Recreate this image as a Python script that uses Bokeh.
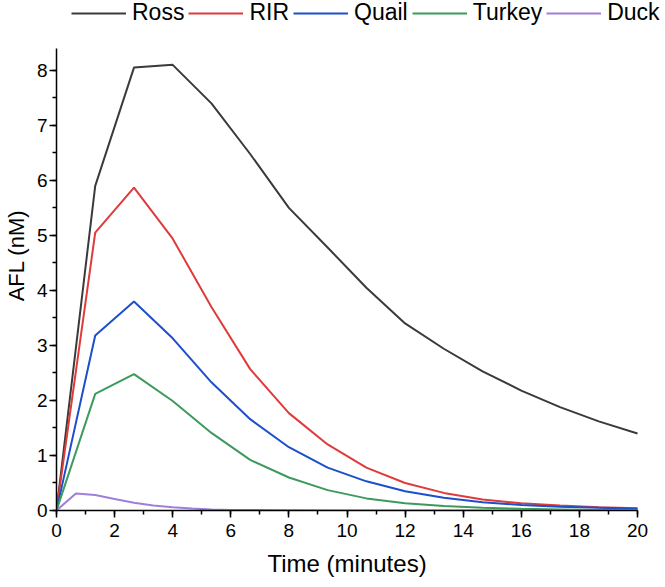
from bokeh.plotting import figure
from bokeh.models import Legend, LegendItem, SingleIntervalTicker, Range1d, Title
from bokeh.embed import file_html
from bokeh.resources import INLINE

# ---- data ----
times = [0, 1.333, 2.667, 4, 5.333, 6.667, 8, 9.333, 10.667, 12,
         13.333, 14.667, 16, 17.333, 18.667, 20]
ross = [0, 5.9, 8.05, 8.1, 7.4, 6.48, 5.5, 4.78, 4.05, 3.4,
        2.94, 2.53, 2.18, 1.88, 1.62, 1.4]
rir = [0, 5.05, 5.87, 4.94, 3.7, 2.57, 1.77, 1.2, 0.78, 0.5,
       0.32, 0.2, 0.13, 0.09, 0.06, 0.04]
quail = [0, 3.18, 3.8, 3.13, 2.33, 1.66, 1.15, 0.78, 0.53, 0.35,
         0.23, 0.15, 0.1, 0.07, 0.05, 0.03]
turkey = [0, 2.12, 2.48, 1.99, 1.41, 0.92, 0.6, 0.37, 0.22, 0.13,
          0.08, 0.05, 0.03, 0.02, 0.01, 0.01]
duck_times = [0, 0.667, 1.333, 2, 2.667, 3.333, 4, 4.667, 5.333, 6,
              8, 10, 12, 14, 16, 18, 20]
duck = [0, 0.31, 0.28, 0.21, 0.14, 0.09, 0.06, 0.035, 0.02, 0.01,
        0.005, 0, 0, 0, 0, 0, 0]

names = ["Ross", "RIR", "Quail", "Turkey", "Duck"]
colors = ["#3a3a3a", "#df3b3b", "#1c4fcc", "#3d9a5c", "#a07fda"]
x_label = "Time (minutes)"
y_label = "AFL (nM)"

FONT = "Liberation Sans"
FRAME_H = 510
FRAME_W = 605
X_AXIS_MAX = 20
X_VIEW_MAX = 20.826
Y_AXIS_MAX = 8.4
Y_VIEW_MAX = 9.27

p = figure(frame_width=FRAME_W, frame_height=FRAME_H,
           min_border_left=49, min_border_right=0,
           min_border_top=0, min_border_bottom=74,
           x_range=Range1d(0, X_VIEW_MAX), y_range=Range1d(0, Y_VIEW_MAX),
           output_backend="svg", toolbar_location=None)
p.outline_line_color = None
p.xgrid.visible = False
p.ygrid.visible = False
p.background_fill_color = "white"
p.border_fill_color = "white"

series = [(times, ross), (times, rir), (times, quail), (times, turkey), (duck_times, duck)]
renderers = []
for (xs, ys), c in zip(series, colors):
    r = p.line(xs, ys, line_color=c, line_width=2)
    renderers.append(r)

p.xaxis.ticker = SingleIntervalTicker(interval=2, num_minor_ticks=2)
p.yaxis.ticker = SingleIntervalTicker(interval=1, num_minor_ticks=2)
p.xaxis.bounds = (0, X_AXIS_MAX)
p.yaxis.bounds = (0, Y_AXIS_MAX)
for ax in (p.xaxis, p.yaxis):
    ax.axis_line_width = 1.5
    ax.axis_line_color = "black"
    ax.major_tick_line_color = "black"
    ax.minor_tick_line_color = "black"
    ax.major_tick_line_width = 1.5
    ax.minor_tick_line_width = 1.5
    ax.major_tick_in = 0
    ax.major_tick_out = 7
    ax.minor_tick_in = 0
    ax.minor_tick_out = 4
    ax.major_label_text_font = FONT
    ax.major_label_text_font_size = "19px"
    ax.major_label_text_color = "black"
    ax.axis_label_text_font = FONT
    ax.axis_label_text_font_style = "normal"
    ax.axis_label_text_color = "black"
p.yaxis.axis_label = y_label
p.yaxis.axis_label_text_font_size = "22px"
p.xaxis.major_label_standoff = 6
p.yaxis.major_label_standoff = 2
p.yaxis.axis_label_standoff = 5

# x-axis title centred under the axis line (0..20), not under the wider frame
xt = Title(text=x_label, align="left", offset=211, standoff=17,
           text_font=FONT, text_font_size="24px", text_font_style="normal",
           text_color="black")
p.add_layout(xt, "below")

items = [LegendItem(label=n, renderers=[r]) for n, r in zip(names, renderers)]
legend = Legend(items=items, orientation="horizontal", location=(15, FRAME_H - 26),
                glyph_width=55, glyph_height=20, label_standoff=6, spacing=4,
                padding=0, margin=0, border_line_color=None,
                background_fill_alpha=0,
                label_text_font=FONT, label_text_font_size="23px",
                label_text_color="black", label_height=22)
p.add_layout(legend, "center")

open("out.html", "w").write(file_html(p, INLINE))
